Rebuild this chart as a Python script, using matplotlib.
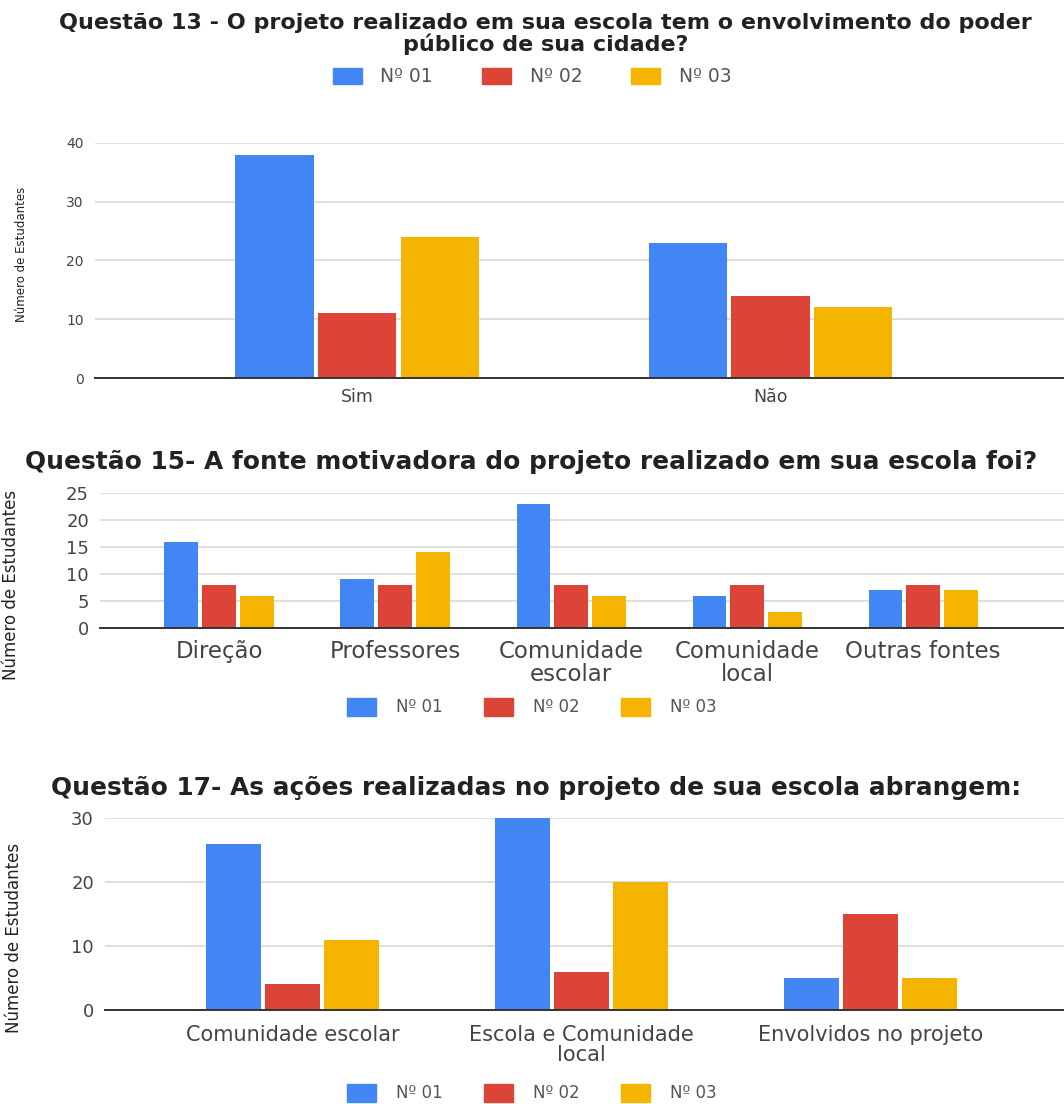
import matplotlib
matplotlib.use('Agg')
import matplotlib.pyplot as plt
from matplotlib.patches import Patch
import numpy as np

# dados das questões
series = ['Nº 01', 'Nº 02', 'Nº 03']
cores = ['#4285F4', '#DB4437', '#F4B400']

q13_titulo = 'Questão 13 - O projeto realizado em sua escola tem o envolvimento do poder\npúblico de sua cidade?'
q13_cats = ['Sim', 'Não']
q13_n01 = [38, 23]
q13_n02 = [11, 14]
q13_n03 = [24, 12]

q15_titulo = 'Questão 15- A fonte motivadora do projeto realizado em sua escola foi?'
q15_cats = ['Direção', 'Professores', 'Comunidade\nescolar', 'Comunidade\nlocal', 'Outras fontes']
q15_n01 = [16, 9, 23, 6, 7]
q15_n02 = [8, 8, 8, 8, 8]
q15_n03 = [6, 14, 6, 3, 7]

q17_titulo = 'Questão 17- As ações realizadas no projeto de sua escola abrangem:'
q17_cats = ['Comunidade escolar', 'Escola e Comunidade\nlocal', 'Envolvidos no projeto']
q17_n01 = [26, 30, 5]
q17_n02 = [4, 6, 15]
q17_n03 = [11, 20, 5]

TXT = '#444444'


def barras(ax, cats, valores, ymax, passo, xlim, larg, esp, xfs, yfs, pad):
    x = np.arange(len(cats))
    for i, (v, c) in enumerate(zip(valores, cores)):
        ax.bar(x + (i - 1) * esp, v, width=larg, color=c, zorder=3)
    ax.set_xlim(*xlim)
    ax.set_ylim(0, ymax)
    ax.set_yticks(np.arange(0, ymax + 1, passo))
    ax.set_xticks(x)
    ax.set_xticklabels(cats, fontsize=xfs, color=TXT, linespacing=1.0)
    ax.tick_params(axis='both', length=0, colors=TXT)
    ax.tick_params(axis='x', pad=pad)
    ax.tick_params(axis='y', labelsize=yfs, pad=8)
    ax.grid(axis='y', color='#d9d9d9', linewidth=1.2, zorder=0)
    for s in ['top', 'right', 'left']:
        ax.spines[s].set_visible(False)
    ax.spines['bottom'].set_color('#333333')
    ax.spines['bottom'].set_linewidth(1.4)
    ax.spines['bottom'].set_zorder(4)


def legenda(fig, y, fs, x, hl, hh, tp, colsp):
    handles = [Patch(facecolor=c, edgecolor=c) for c in cores]
    fig.legend(handles, series, loc='center', bbox_to_anchor=(x, y), ncol=3,
               frameon=False, fontsize=fs, handlelength=hl, handleheight=hh,
               columnspacing=colsp, handletextpad=tp, labelcolor='#555555')


fig = plt.figure(figsize=(10.64, 11.04), dpi=100)

# Questão 13
ax1 = fig.add_axes([0.0893, 0.6576, 0.9107, 0.2129])
barras(ax1, q13_cats, [q13_n01, q13_n02, q13_n03], 40, 10,
       (-0.634, 1.71), 0.19, 0.2, 12.5, 10, 7)
ax1.set_ylabel('Número de Estudantes', fontsize=8.5, color='#222222')
ax1.yaxis.set_label_coords(-0.069, 0.528)
fig.text(0.513, 1 - 34 / 1104, q13_titulo, ha='center', va='center', fontsize=16,
         fontweight='bold', color='#222222', linespacing=0.98)
legenda(fig, 1 - 77 / 1104, 13.5, 0.5, 1.55, 0.9, 1.0, 2.6)

# Questão 15
ax2 = fig.add_axes([0.094, 0.4312, 0.906, 0.1223])
barras(ax2, q15_cats, [q15_n01, q15_n02, q15_n03], 25, 5,
       (-0.676, 4.8), 0.19, 0.215, 16.5, 13, 9)
ax2.set_ylabel('Número de Estudantes', fontsize=12, color='#222222')
ax2.yaxis.set_label_coords(-0.083, 0.32)
fig.text(0.499, 1 - 462 / 1104, q15_titulo, ha='center', va='center', fontsize=17.9,
         fontweight='bold', color='#222222')
legenda(fig, 1 - 707 / 1104, 12, 0.5, 1.74, 1.26, 1.2, 2.5)

# Questão 17
ax3 = fig.add_axes([0.0987, 0.0851, 0.9013, 0.1739])
barras(ax3, q17_cats, [q17_n01, q17_n02, q17_n03], 30, 10,
       (-0.65, 2.67), 0.19, 0.204, 15, 13, 11)
ax3.set_ylabel('Número de Estudantes', fontsize=12, color='#222222')
ax3.yaxis.set_label_coords(-0.0855, 0.375)
fig.text(0.504, 1 - 788 / 1104, q17_titulo, ha='center', va='center', fontsize=17.9,
         fontweight='bold', color='#222222')
legenda(fig, 1 - 1093 / 1104, 12, 0.5, 1.74, 1.26, 1.2, 2.5)

fig.savefig('out.png', dpi=100, facecolor='white')
